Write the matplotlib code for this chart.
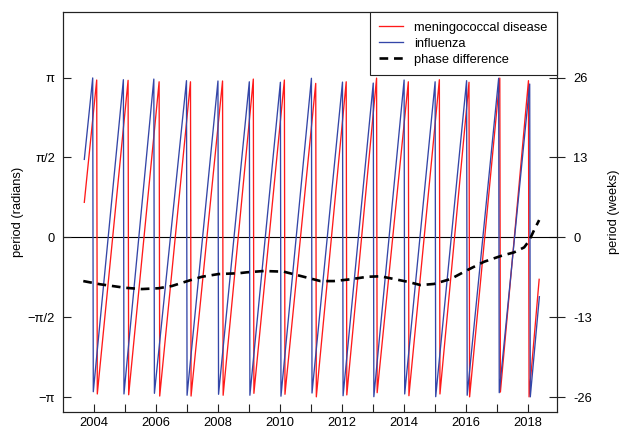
import numpy as np
import matplotlib
matplotlib.use("Agg")
import matplotlib.pyplot as plt

plt.rcParams['font.family'] = ['Liberation Sans', 'DejaVu Sans']

# ---- data (phase values in units of pi) ----
mening_time = [2003.687,
               2004.087, 2004.106, 2005.099, 2005.118, 2006.100, 2006.119,
               2007.111, 2007.130, 2008.145, 2008.164, 2009.137, 2009.156,
               2010.139, 2010.158, 2011.150, 2011.169, 2012.133, 2012.152,
               2013.112, 2013.131, 2014.136, 2014.155, 2015.137, 2015.156,
               2016.093, 2016.112, 2017.086, 2017.105, 2018.010, 2018.029,
               2018.355]
mening_phase = [0.219,
                0.985, -0.981, 0.983, -0.986, 0.974, -0.994,
                0.974, -0.994, 0.979, -0.989, 0.991, -0.977,
                0.985, -0.983, 0.964, -0.999, 0.974, -0.987,
                0.997, -0.973, 0.974, -0.992, 0.987, -0.981,
                0.971, -0.999, 0.997, -0.969, 0.981, -0.999,
                -0.263]

flu_time = [2003.687,
            2003.958, 2003.977, 2004.947, 2004.966, 2005.929, 2005.948,
            2006.982, 2007.001, 2007.997, 2008.016, 2009.008, 2009.027,
            2010.010, 2010.029, 2011.011, 2011.030, 2012.013, 2012.032,
            2013.005, 2013.024, 2014.000, 2014.019, 2015.000, 2015.019,
            2016.015, 2016.034, 2017.049, 2017.068, 2018.050, 2018.069,
            2018.362]
flu_phase = [0.488,
             0.998, -0.967, 0.987, -0.981, 0.991, -0.977,
             0.981, -0.989, 0.979, -0.983, 0.974, -0.989,
             0.971, -0.995, 0.996, -0.975, 0.972, -0.992,
             0.966, -0.998, 0.985, -0.981, 0.974, -0.998,
             0.981, -0.989, 0.996, -0.973, 0.960, -0.999,
             -0.372]

diff_time = [2003.654, 2004.194, 2005.002, 2005.541, 2006.078, 2006.510,
             2007.047, 2007.480, 2008.016, 2008.662, 2008.934, 2009.470,
             2010.116, 2010.762, 2011.302, 2011.732, 2012.271, 2012.811,
             2013.241, 2013.670, 2014.103, 2014.533, 2014.963, 2015.502,
             2016.042, 2016.578, 2017.118, 2017.548, 2017.871, 2018.032,
             2018.194, 2018.355]
diff_phase = [-0.274, -0.294, -0.316, -0.324, -0.319, -0.305,
              -0.272, -0.247, -0.230, -0.225, -0.219, -0.211,
              -0.215, -0.247, -0.274, -0.274, -0.263, -0.247,
              -0.244, -0.261, -0.278, -0.299, -0.292, -0.261,
              -0.205, -0.153, -0.117, -0.094, -0.063, -0.021,
              0.046, 0.108]

year_ticks = list(range(2004, 2019))
year_labels = [str(y) if y % 2 == 0 else "" for y in year_ticks]
rad_ticks = [-1.0, -0.5, 0.0, 0.5, 1.0]
rad_labels = ["\u2212\u03c0", "\u2212\u03c0/2", "0", "\u03c0/2", "\u03c0"]
week_ticks = [-26, -13, 0, 13, 26]
week_labels = ["-26", "-13", "0", "13", "26"]
series_names = ["meningococcal disease", "influenza", "phase difference"]

# ---- figure ----
W, H = 620, 433
fig = plt.figure(figsize=(W / 100, H / 100), dpi=100)
L, R, T, B = 63, 557.3, 12, 411.7
ax = fig.add_axes([L / W, 1 - B / H, (R - L) / W, (B - T) / H])

FS = 9.3
axcol = '#222222'

ax.plot(mening_time, np.array(mening_phase) * np.pi, color='#FF1A1A', lw=0.95,
        label=series_names[0])
ax.plot(flu_time, np.array(flu_phase) * np.pi, color='#3446A8', lw=0.95,
        label=series_names[1])
ax.plot(diff_time, np.array(diff_phase) * np.pi, color='black', lw=1.9,
        dashes=(3.3, 2.2), label=series_names[2])
ax.axhline(0, color='black', lw=0.8, zorder=1)

ylo, yhi = -1.092 * np.pi, 1.411 * np.pi
ax.set_xlim(2003.0, 2018.94)
ax.set_ylim(ylo, yhi)

ax.set_xticks(year_ticks)
ax.set_xticklabels(year_labels)
ax.set_yticks(np.array(rad_ticks) * np.pi)
ax.set_yticklabels(rad_labels)
ax.tick_params(axis='x', direction='in', length=6.1, width=0.8, color=axcol,
               labelsize=FS, pad=3.8)
ax.tick_params(axis='y', direction='in', length=6.1, width=0.8, color=axcol,
               labelsize=FS, pad=5.8)
for s in ax.spines.values():
    s.set_color(axcol)
    s.set_linewidth(0.8)

ax2 = ax.twinx()
ax2.set_ylim(ylo * 26 / np.pi, yhi * 26 / np.pi)
ax2.set_yticks(week_ticks)
ax2.set_yticklabels(week_labels)
ax2.tick_params(axis='y', direction='inout', length=12.2, width=0.8,
                color=axcol, labelsize=FS, pad=5.4)
for s in ax2.spines.values():
    s.set_color(axcol)
    s.set_linewidth(0.8)

fig.text(18 / W, 1 - 212 / H, "period (radians)", rotation=90,
         ha='center', va='center', fontsize=FS)
fig.text(613.5 / W, 1 - 212 / H, "period (weeks)", rotation=90,
         ha='center', va='center', fontsize=FS)

leg = ax.legend(loc='upper right', bbox_to_anchor=(1, 1), borderaxespad=0,
                fontsize=FS, frameon=True, fancybox=False, framealpha=1,
                edgecolor=axcol, borderpad=0.75, handlelength=1.8,
                handletextpad=0.9, labelspacing=0.30)
leg.get_frame().set_linewidth(0.8)
leg.set_zorder(10)
ax.set_zorder(ax2.get_zorder() + 1)
ax.patch.set_visible(False)

fig.savefig("out.png", dpi=100)
